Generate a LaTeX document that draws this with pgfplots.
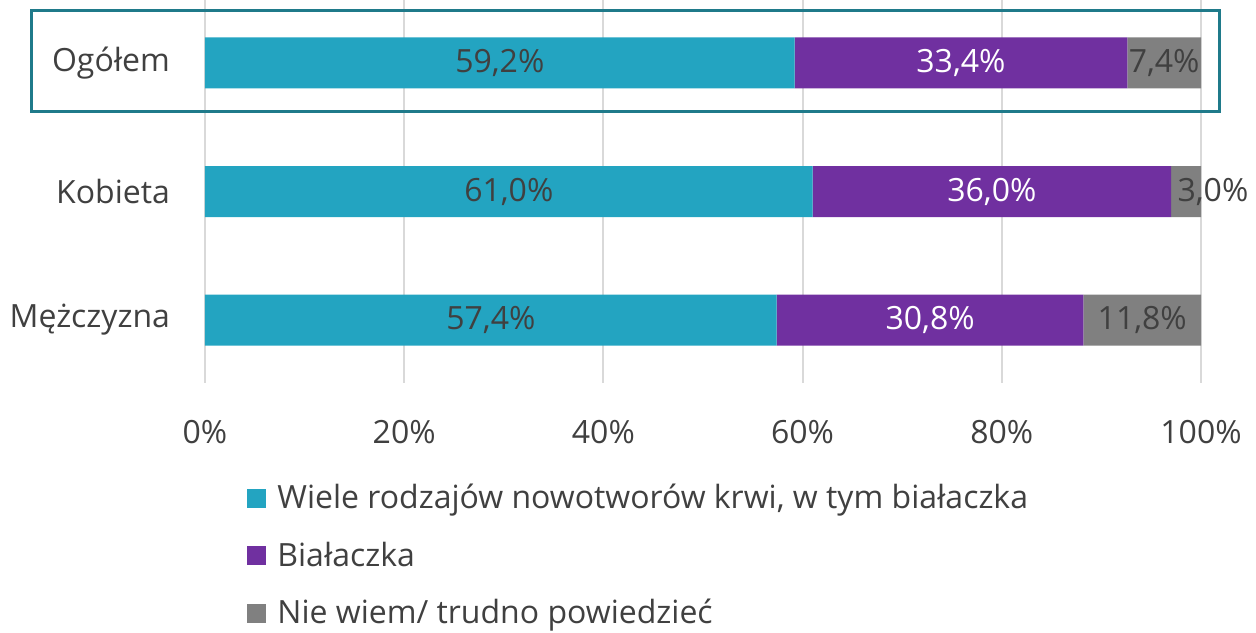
\documentclass[border=0pt]{standalone}
\usepackage{fontspec}
\setmainfont{Open Sans}
\usepackage{pgfplots}
\pgfplotsset{compat=1.18}
\definecolor{cteal}{HTML}{23A4C1}
\definecolor{cpurple}{HTML}{7030A0}
\definecolor{cgray}{HTML}{808080}
\definecolor{ctext}{HTML}{404040}
\definecolor{cframe}{HTML}{1F7A8A}
\definecolor{cgrid}{HTML}{D9D9D9}
\newcommand\f{\fontsize{16}{19}\selectfont}
\pgfplotsset{
    samegeom/.style={
        at={(0,0)}, anchor=south west,
        scale only axis,
        width=498pt, height=191.5pt,
        xmin=0, xmax=100,
        ymin=-0.49, ymax=2.49,
        y dir=reverse,
        clip=false,
    },
    seglabel/.style={
        only marks, mark=none,
        point meta=explicit symbolic, nodes near coords,
        nodes near coords align=center,
        every node near coord/.append style={font=\f, text=#1, anchor=center},
    },
}

\begin{document}
\begin{tikzpicture}
\path[use as bounding box] (-102.5pt,-124.5pt) rectangle (525.5pt,191.5pt);
\begin{axis}[
    samegeom,
    axis line style={draw=none},
    tick style={draw=none},
    xmajorgrids,
    grid style={cgrid, line width=1pt},
    xtick={0,20,...,100},
    xticklabel={\pgfmathprintnumber{\tick}\%},
    /pgf/number format/assume math mode=true,
    ytick={0,1,2},
    yticklabels={Ogółem,Kobieta,Mężczyzna},
    ticklabel style={font=\f, text=ctext},
    xticklabel style={yshift=-15pt},
    yticklabel style={xshift=-14pt},
    xbar stacked,
    bar width=25.5pt,
    legend style={at={(axis description cs:0,0)}, anchor=north west,
        xshift=18pt, yshift=-46.5pt, draw=none, fill=none,
        font=\f, text=ctext, row sep=11pt, column sep=3.5pt},
    legend cell align=left,
    legend image code/.code={\fill[#1] (0pt,-4.75pt) rectangle (9.5pt,4.75pt);},
]
% highlight frame around the first row
\draw[cframe, line width=1.5pt] (axis cs:-17.4,-0.412) rectangle (axis cs:101.9,0.374);

\addplot[fill=cteal, draw=none] coordinates {(59.2,0) (61.0,1) (57.4,2)};
\addplot[fill=cpurple, draw=none] coordinates {(33.4,0) (36.0,1) (30.8,2)};
\addplot[fill=cgray, draw=none] coordinates {(7.4,0) (3.0,1) (11.8,2)};

\legend{{Wiele rodzajów nowotworów krwi, w tym białaczka}, Białaczka, Nie wiem/ trudno powiedzieć}
\end{axis}

% segment labels, same geometry, no stacking
\begin{axis}[samegeom, hide axis]
\addplot[seglabel=ctext] coordinates {(29.6,0) [59,2\%] (30.5,1) [61,0\%] (28.7,2) [57,4\%]};
\addplot[seglabel=white] coordinates {(75.9,0) [33,4\%] (79.0,1) [36,0\%] (72.8,2) [30,8\%]};
\addplot[seglabel=ctext] coordinates {(96.3,0) [7,4\%] (101.2,1) [3,0\%] (94.1,2) [11,8\%]};
\end{axis}
\end{tikzpicture}
\end{document}
